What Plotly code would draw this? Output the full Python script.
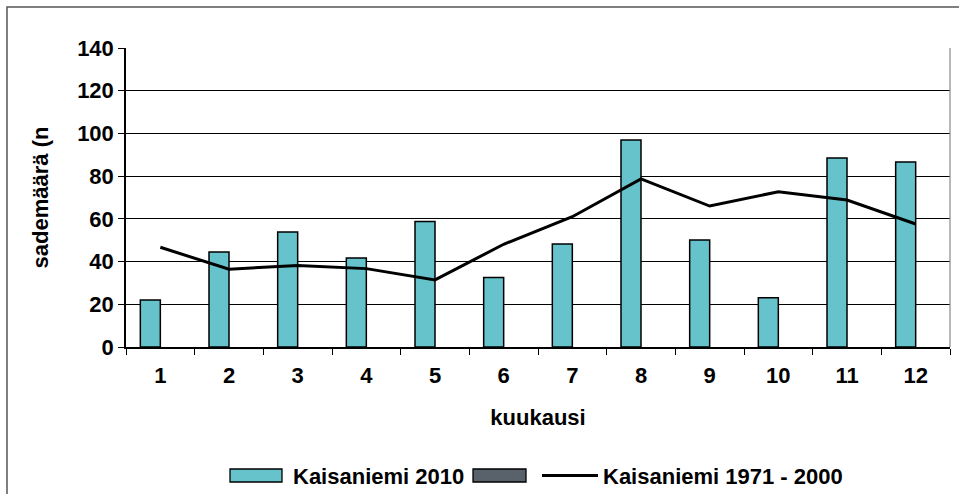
import plotly.graph_objects as go

# Monthly precipitation, Helsinki Kaisaniemi
months = ["1", "2", "3", "4", "5", "6", "7", "8", "9", "10", "11", "12"]
rain_2010 = [22.0, 44.5, 53.8, 41.7, 58.8, 32.5, 48.2, 96.9, 50.1, 23.1, 88.5, 86.6]
rain_empty = [None] * 12
rain_1971_2000 = [46.7, 36.4, 38.2, 36.7, 31.4, 48.1, 61.0, 78.7, 66.0, 72.7, 68.8, 57.6]
y_ticks = [0, 20, 40, 60, 80, 100, 120, 140]

name_2010 = "Kaisaniemi 2010"
name_norm = "Kaisaniemi 1971 - 2000"

TEAL = "#66c3cc"
SLATE = "#59626a"
FONT = "Liberation Sans, Arial, sans-serif"

W, H = 959, 494
L, R, T, B = 126, 9, 48, 147
PW, PH = W - L - R, H - T - B


def px(x):
    return (x - L) / PW


def py(y):
    return (H - B - y) / PH


fig = go.Figure()
fig.add_trace(go.Bar(x=months, y=rain_2010, name=name_2010,
                     marker=dict(color=TEAL, line=dict(color="black", width=1.5)),
                     showlegend=False))
fig.add_trace(go.Bar(x=months, y=rain_empty, name=" ",
                     marker=dict(color=SLATE, line=dict(color="black", width=1.5)),
                     showlegend=False))
fig.add_trace(go.Scatter(x=months, y=rain_1971_2000, name=name_norm, mode="lines",
                         line=dict(color="black", width=3), showlegend=False))

shapes = [
    # outer chart frame
    dict(type="rect", xref="paper", yref="paper", x0=px(7), x1=px(975), y0=py(7), y1=py(510),
         line=dict(color="#555555", width=1.5), fillcolor="rgba(0,0,0,0)", layer="below"),
    # right edge of plot area
    dict(type="line", xref="paper", yref="paper", x0=1, x1=1, y0=0, y1=1,
         line=dict(color="#888888", width=1.2)),
    # legend swatches
    dict(type="rect", xref="paper", yref="paper", x0=px(230), x1=px(282), y0=py(482), y1=py(469),
         fillcolor=TEAL, line=dict(color="black", width=1.3)),
    dict(type="rect", xref="paper", yref="paper", x0=px(473), x1=px(526), y0=py(482), y1=py(469),
         fillcolor=SLATE, line=dict(color="black", width=1.3)),
    dict(type="line", xref="paper", yref="paper", x0=px(542), x1=px(598), y0=py(475.5), y1=py(475.5),
         line=dict(color="black", width=3)),
]

annotations = [
    dict(text=name_2010, xref="paper", yref="paper", x=px(291), y=py(476), xanchor="left",
         yanchor="middle", showarrow=False, font=dict(family=FONT, size=22, color="black", weight="bold")),
    dict(text=name_norm, xref="paper", yref="paper", x=px(601), y=py(476), xanchor="left",
         yanchor="middle", showarrow=False, font=dict(family=FONT, size=22, color="black", weight="bold")),
]

fig.update_layout(
    width=W, height=H,
    margin=dict(l=L, r=R, t=T, b=B),
    paper_bgcolor="white", plot_bgcolor="white",
    barmode="group", bargap=0.4175, bargroupgap=0,
    font=dict(family=FONT, color="black"),
    shapes=shapes, annotations=annotations,
    showlegend=False,
)
fig.update_xaxes(
    type="category", tickson="boundaries", ticks="outside", ticklen=6, tickwidth=1.3,
    tickcolor="black", showline=True, linecolor="black", linewidth=1.5,
    showgrid=False, tickfont=dict(family=FONT, size=22, weight="bold"),
    ticklabelstandoff=8,
    title=dict(text="kuukausi", font=dict(family=FONT, size=22, weight="bold"), standoff=22),
)
fig.update_yaxes(
    range=[0, 140], tickvals=y_ticks, ticks="outside", ticklen=6, tickwidth=1.3,
    tickcolor="black", showline=True, linecolor="black", linewidth=1.5,
    showgrid=True, gridcolor="black", gridwidth=1.3, zeroline=False,
    tickfont=dict(family=FONT, size=22, weight="bold"),
    title=dict(text="sademäärä (n", font=dict(family=FONT, size=22, weight="bold"), standoff=22),
)

fig.write_html("out.html")
